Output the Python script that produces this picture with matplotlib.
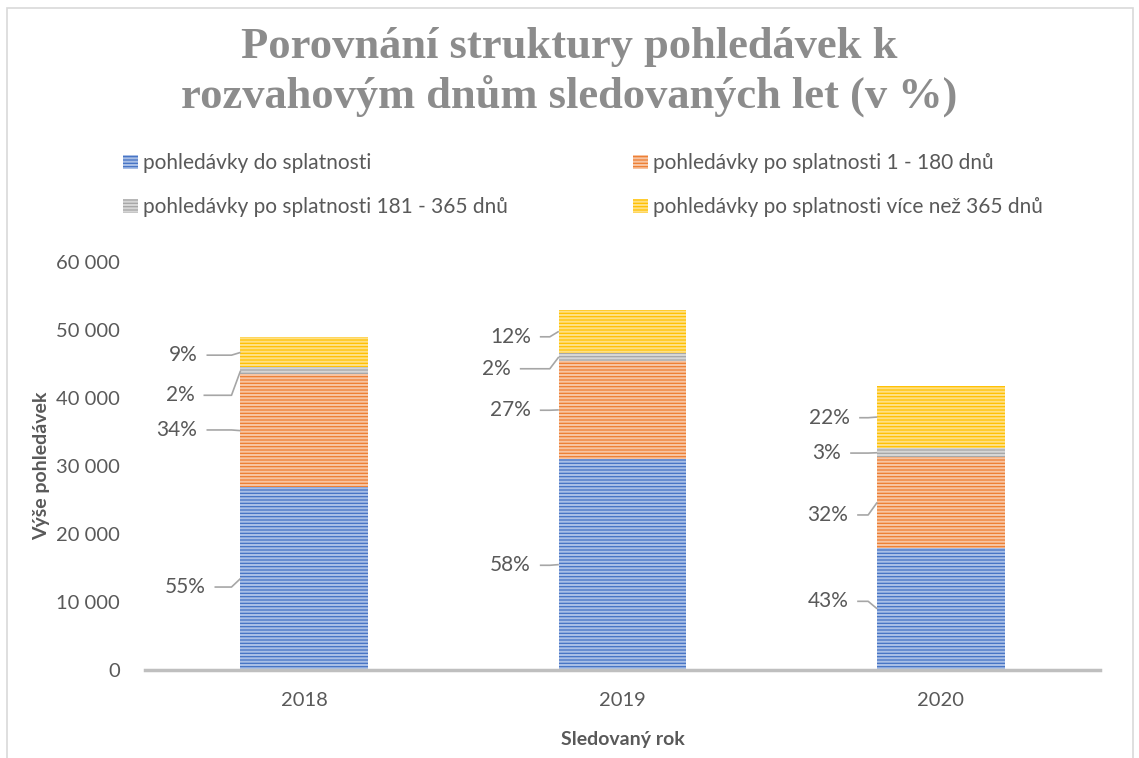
import numpy as np
import matplotlib
matplotlib.use("Agg")
import matplotlib.pyplot as plt
from matplotlib.patches import Rectangle

# data
years = ["2018", "2019", "2020"]
series_names = ["pohledávky do splatnosti",
                "pohledávky po splatnosti 1 - 180 dnů",
                "pohledávky po splatnosti 181 - 365 dnů",
                "pohledávky po splatnosti více než 365 dnů"]
do_splatnosti = [26900, 31000, 18000]
po_1_180 = [16600, 14500, 13300]
po_181_365 = [1000, 1100, 1300]
po_365 = [4400, 6400, 9200]

# style
colors = ["#4472C4", "#ED7D31", "#A5A5A5", "#FFC000"]
stripes = ["#A9BFE6", "#F7C4A2", "#D6D6D6", "#FFE083"]
text_col = "#595959"
font = "Lato"

# where each percentage label sits: (x offset from bar's left edge in px, y value)
label_pos = [
    [(-35, 12200), (-43, 35300), (-46, 40400), (-43, 46300)],
    [(-28, 15400), (-28, 38200), (-48, 44300), (-28, 49000)],
    [(-29, 10100), (-29, 22800), (-36, 31900), (-27, 37100)],
]

W, H = 1139, 758
fig = plt.figure(figsize=(W / 100, H / 100), dpi=100)
ax = fig.add_axes([145 / W, 1 - 670 / H, 955 / W, 408 / H])

plt.rcParams['hatch.linewidth'] = 1.5

series = [do_splatnosti, po_1_180, po_181_365, po_365]
x = np.arange(len(years))
width = 0.4
bottom = np.zeros(len(years))
bars = []
for vals, c, s, name in zip(series, colors, stripes, series_names):
    b = ax.bar(x, vals, width, bottom=bottom, color=c, edgecolor=s,
               linewidth=0, hatch="-----", label=name)
    bars.append(b)
    bottom = bottom + np.array(vals)

totals = bottom
px = 1.0 / (955 / 3)  # category units per pixel
for i in range(len(years)):
    left = x[i] - width / 2
    base = 0
    for k, vals in enumerate(series):
        v = vals[i]
        mid = base + v / 2
        base += v
        dx, ly = label_pos[i][k]
        tx = left + dx * px
        ax.text(tx, ly, "%d%%" % round(100 * v / totals[i]), ha="right", va="center",
                fontsize=15, color=text_col, family=font)
        ax.plot([tx + 9 * px, left - 9 * px, left], [ly, ly, mid],
                color="#A6A6A6", lw=1.2, solid_capstyle="butt", clip_on=False)

ax.set_xlim(-0.5, 2.5)
ax.set_ylim(0, 60000)
ax.set_yticks(np.arange(0, 60001, 10000))
ax.set_yticklabels([f"{v:,}".replace(",", " ") for v in range(0, 60001, 10000)])
ax.set_xticks(x)
ax.set_xticklabels(years)
ax.tick_params(length=0, labelsize=14.5, labelcolor=text_col, pad=16)
for lab in ax.get_xticklabels() + ax.get_yticklabels():
    lab.set_family(font)
ax.tick_params(axis="y", pad=18)
for sp in ["left", "right", "top"]:
    ax.spines[sp].set_visible(False)
ax.spines["bottom"].set_color("#BFBFBF")
ax.spines["bottom"].set_linewidth(2.5)

ax.set_ylabel("Výše pohledávek", fontsize=14, fontweight="bold", color=text_col,
              family=font, labelpad=4)
ax.set_xlabel("Sledovaný rok", fontsize=14, fontweight="bold", color=text_col,
              family=font, labelpad=16)

handles = [bars[0], bars[2], bars[1], bars[3]]
labels = [series_names[0], series_names[2], series_names[1], series_names[3]]
leg = fig.legend(handles, labels, ncol=2, loc="upper left",
                 bbox_to_anchor=(115 / W, 1 - 145 / H), frameon=False,
                 prop={"family": font, "size": 15}, labelcolor=text_col,
                 handlelength=0.7, handleheight=0.7, handletextpad=0.25,
                 columnspacing=6.0, labelspacing=1.15, borderaxespad=0)

fig.text(0.5, 1 - 58 / H, "Porovnání struktury pohledávek k", ha="center", va="baseline",
         fontsize=32, fontweight="bold", color="#8C8C8C", family="Liberation Serif")
fig.text(0.5, 1 - 108 / H, "rozvahovým dnům sledovaných let (v %)", ha="center", va="baseline",
         fontsize=32, fontweight="bold", color="#8C8C8C", family="Liberation Serif")

# outer chart frame
fig.patches.append(Rectangle((7 / W, -0.05), 1126 / W, 1.05 - 8 / H, transform=fig.transFigure,
                             fill=False, edgecolor="#D9D9D9", lw=1.2))

fig.savefig("out.png", dpi=100)
